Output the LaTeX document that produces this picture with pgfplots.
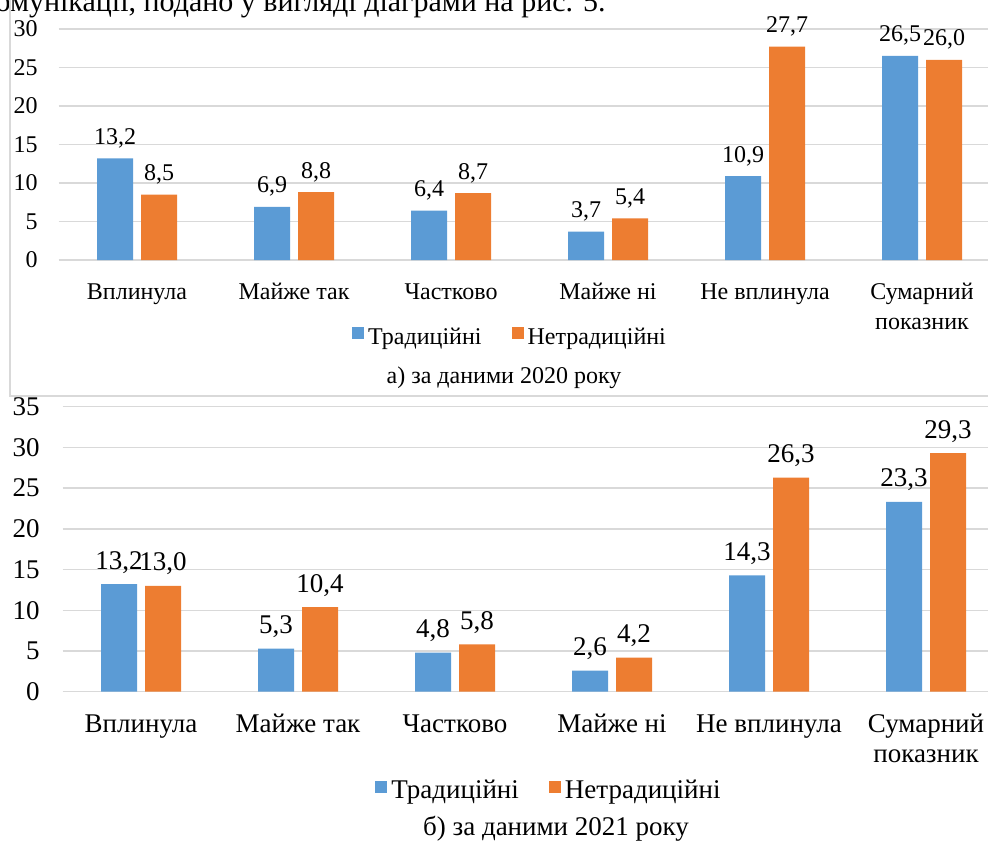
\documentclass[border=0pt]{standalone}
\usepackage{fontspec}
\setmainfont{Liberation Serif}
\usepackage{pgfplots}
\usepackage{pgfplotstable}
\pgfplotsset{compat=1.18}
\definecolor{cblue}{HTML}{5B9BD5}
\definecolor{corange}{HTML}{ED7D31}
\definecolor{cgrid}{HTML}{D9D9D9}

\pgfplotstableread{
x trad netrad
0 13.2 8.5
1 6.9 8.8
2 6.4 8.7
3 3.7 5.4
4 10.9 27.7
5 26.5 26.0
}\dataA
\pgfplotstableread{
x trad netrad
0 13.2 13.0
1 5.3 10.4
2 4.8 5.8
3 2.6 4.2
4 14.3 26.3
5 23.3 29.3
}\dataB

\newcommand{\fA}{\fontsize{12}{15}\selectfont}
\newcommand{\fB}{\fontsize{13.5}{15}\selectfont}

\pgfplotsset{
 mybar/.style={
  scale only axis, width=471pt, xmin=-0.5, xmax=5.5, ymin=0,
  anchor=south west,
  axis line style={draw=none}, major tick length=0pt,
  ymajorgrids, grid style={draw=cgrid, line width=0.75pt},
  xtick={0,...,5},
  xticklabels={Вплинула, Майже так, Частково, Майже ні, Не вплинула, {\begin{tabular}[t]{@{}c@{}}Сумарний\\показник\end{tabular}}},
  xticklabel style={anchor=base, inner sep=0pt},
  yticklabel style={anchor=east, inner sep=0pt},
  /pgf/number format/assume math mode=true,
  ybar=4pt, bar width=18pt, clip=false,
  nodes near coords={\pgfmathprintnumber[fixed, fixed zerofill, precision=1, use comma]{\pgfplotspointmeta}},
  every node near coord/.append style={anchor=base, inner sep=0pt, text=black},
  legend columns=2, legend cell align=left,
  legend image code/.code={\fill[##1] (0pt,-1pt) rectangle (6pt,5pt);},
  legend style={draw=none, fill=none, anchor=center,
    /tikz/every even column/.append style={column sep=13pt}},
 }
}

\begin{document}
\begin{tikzpicture}
\path[use as bounding box] (0pt,0pt) rectangle (494pt,421.5pt);
\clip (0pt,0pt) rectangle (494pt,421.5pt);

\node[anchor=base east, inner sep=0pt, font=\fontsize{15}{17}\selectfont] at (303pt,415.5pt) {омунікації, подано у вигляді діаграми на рис. 5.};

\draw[cgrid, line width=0.75pt] (5pt,223.5pt) rectangle (505pt,440pt);

\begin{axis}[mybar, at={(29.25pt,291.5pt)}, height=115.5pt, ymax=30, ytick={0,5,...,30},
  tick label style={font=\fA},
  xticklabel style={yshift=-19.5pt},
  yticklabel style={xshift=-10.25pt},
  every node near coord/.append style={font=\fA, yshift=7pt},
  legend style={at={(0.4804,-0.335)}, font=\fA}]
\addplot[fill=cblue, draw=none] table[x=x, y=trad]{\dataA};
\addplot[fill=corange, draw=none] table[x=x, y=netrad]{\dataA};
\legend{Традиційні, Нетрадиційні}
\end{axis}
\node[anchor=base, inner sep=0pt, font=\fA] at (252pt,230pt) {а) за даними 2020 року};

\begin{axis}[mybar, at={(31.25pt,75.65pt)}, height=142.5pt, ymax=35, ytick={0,5,...,35},
  tick label style={font=\fB},
  xticklabel style={yshift=-20.5pt},
  yticklabel style={xshift=-11.25pt},
  every node near coord/.append style={font=\fB, yshift=7.5pt},
  legend style={at={(0.5175,-0.348)}, font=\fB}]
\addplot[fill=cblue, draw=none] table[x=x, y=trad]{\dataB};
\addplot[fill=corange, draw=none] table[x=x, y=netrad]{\dataB};
\legend{Традиційні, Нетрадиційні}
\end{axis}
\node[anchor=base, inner sep=0pt, font=\fB] at (278pt,4pt) {б) за даними 2021 року};
\end{tikzpicture}
\end{document}
